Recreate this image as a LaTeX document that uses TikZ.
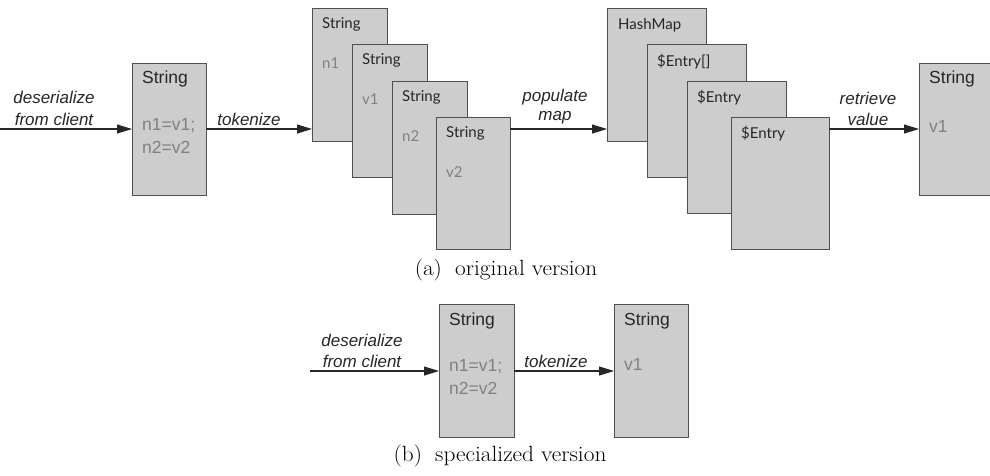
\documentclass[tikz,border=0pt]{standalone}
\usepackage{fontspec}
\setmainfont{Latin Modern Roman}
\newfontfamily\helv{Liberation Sans}
\newfontfamily\gill{Lato}
\newfontfamily\capfont[FakeStretch=1.06]{Latin Modern Roman}
\usetikzlibrary{arrows.meta}
\definecolor{boxfill}{HTML}{CDCDCD}
\definecolor{boxline}{HTML}{505050}
\definecolor{valgray}{HTML}{808080}
\tikzset{
  obj/.style={draw=boxline, fill=boxfill, line width=1.2pt, anchor=north west, inner sep=0pt},
  hlabel/.style={anchor=west, inner sep=0pt, font=\helv\fontsize{17.5}{20}\selectfont, text=black!85},
  hval/.style={anchor=west, inner sep=0pt, font=\helv\fontsize{17.5}{20}\selectfont, text=valgray},
  glabel/.style={anchor=west, inner sep=0pt, font=\gill\fontsize{15}{18}\selectfont, text=black!85},
  gval/.style={anchor=west, inner sep=0pt, font=\gill\fontsize{15}{18}\selectfont, text=valgray},
  act/.style={inner sep=0pt, font=\helv\itshape\fontsize{17}{20}\selectfont, text=black!85},
  flow/.style={line width=1.1pt, draw=black!85, -{Triangle[length=15pt,width=9pt]}},
  caption/.style={inner sep=0pt, font=\capfont\fontsize{22}{25}\selectfont},
}
\begin{document}
\begin{tikzpicture}[x=1pt,y=-1pt]
\useasboundingbox (0,0) rectangle (990,475);
\begin{scope}
\clip (0,0) rectangle (990,475);

% ---------- (a) original version ----------
\coordinate (srcA) at (0,129);
\node[obj, minimum width=74pt, minimum height=132pt] (s0) at (132,63) {};
\node[hlabel] (s0t) at (142,79) {String};
\node[hval] (s0a) at (142,126) {n1=v1;};
\node[hval] (s0b) at (142,147) {n2=v2};

% stack of token strings
\node[obj, minimum width=75pt, minimum height=133pt] (t1) at (312,8) {};
\node[glabel] (t1t) at (322,24) {String};
\node[gval] (t1v) at (322,63) {n1};
\node[obj, minimum width=75pt, minimum height=133pt] (t2) at (352,44) {};
\node[glabel] (t2t) at (362,60) {String};
\node[gval] (t2v) at (362,99) {v1};
\node[obj, minimum width=75pt, minimum height=133pt] (t3) at (392,81) {};
\node[glabel] (t3t) at (402,97) {String};
\node[gval] (t3v) at (402,136) {n2};
\node[obj, minimum width=74pt, minimum height=132pt] (t4) at (436,117) {};
\node[glabel] (t4t) at (446,133) {String};
\node[gval] (t4v) at (446,172) {v2};

% stack of map objects
\node[obj, minimum width=99pt, minimum height=133pt] (m1) at (607,8) {};
\node[glabel] (m1t) at (618,25) {HashMap};
\node[obj, minimum width=99pt, minimum height=133pt] (m2) at (647,44) {};
\node[glabel] (m2t) at (657,62) {\$Entry[]};
\node[obj, minimum width=99pt, minimum height=132pt] (m3) at (687,81) {};
\node[glabel] (m3t) at (697,98) {\$Entry};
\node[obj, minimum width=98pt, minimum height=132pt] (m4) at (731,117) {};
\node[glabel] (m4t) at (741,134) {\$Entry};

% retrieved value
\node[obj, minimum width=74pt, minimum height=132pt] (r1) at (919,63) {};
\node[hlabel] (r1t) at (929,79) {String};
\node[hval] (r1v) at (929,126) {v1};

\coordinate (t1in) at (312,129);
\coordinate (m1in) at (607,129);
\coordinate (r1in) at (919,129);
\coordinate (s0out) at (206,129);
\coordinate (t4out) at (510,129);
\coordinate (m4out) at (829,129);

\draw[flow] (srcA) -- (s0.west |- srcA);
\draw[flow] (s0out) -- (t1in);
\draw[flow] (t4out) -- (m1in);
\draw[flow] (m4out) -- (r1in);

\node[act] (la1) at (54,97) {deserialize};
\node[act] (la2) at (54,119) {from client};
\node[act] (la3) at (249,119) {tokenize};
\node[act] (la4) at (555,97) {populate};
\node[act] (la5) at (555,118) {map};
\node[act] (la6) at (868,98) {retrieve};
\node[act] (la7) at (868,119) {value};

\node[caption] (capa) at (506,270) {(a)\hspace{0.6em}original version};

% ---------- (b) specialized version ----------
\coordinate (srcB) at (310,371);
\node[obj, minimum width=75pt, minimum height=133pt] (b1) at (439,304) {};
\node[hlabel] (b1t) at (449,321) {String};
\node[hval] (b1a) at (449,367) {n1=v1;};
\node[hval] (b1b) at (449,388) {n2=v2};
\node[obj, minimum width=74pt, minimum height=133pt] (b2) at (614,304) {};
\node[hlabel] (b2t) at (624,321) {String};
\node[hval] (b2v) at (624,364) {v1};

\coordinate (b1in) at (439,371);
\coordinate (b1out) at (514,371);
\coordinate (b2in) at (614,371);
\draw[flow] (srcB) -- (b1in);
\draw[flow] (b1out) -- (b2in);

\node[act] (lb1) at (362,340) {deserialize};
\node[act] (lb2) at (362,361) {from client};
\node[act] (lb3) at (556,361) {tokenize};

\node[caption] (capb) at (500,456) {(b)\hspace{0.6em}specialized version};
\end{scope}
\end{tikzpicture}
\end{document}
